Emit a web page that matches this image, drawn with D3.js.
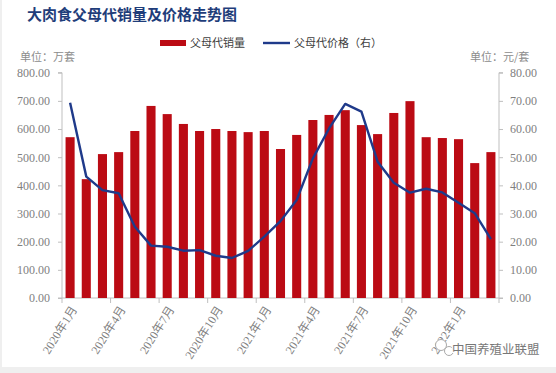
<!DOCTYPE html>
<html lang="zh">
  <head>
    <meta charset="UTF-8" />
    <title>大肉食父母代销量及价格走势图</title>
    <script src="https://d3js.org/d3.v7.min.js"></script>
    <style>
      body { margin: 0; background: #fff; }
      .tick text { font-family: "Liberation Serif", serif; fill: #7f7f7f; font-size: 12px; }
      .axis path, .axis line { stroke: #bfbfbf; }
      .cn { font-family: "Noto Sans CJK SC", sans-serif; }
    </style>
  </head>
  <body>
    <svg id="chart" width="556" height="373"></svg>
    <script>
      const months = [
        "2020年1月","2020年2月","2020年3月","2020年4月","2020年5月","2020年6月",
        "2020年7月","2020年8月","2020年9月","2020年10月","2020年11月","2020年12月",
        "2021年1月","2021年2月","2021年3月","2021年4月","2021年5月","2021年6月",
        "2021年7月","2021年8月","2021年9月","2021年10月","2021年11月","2021年12月",
        "2022年1月","2022年2月","2022年3月"
      ];
      const sales = [571, 422, 511, 518, 593, 682, 653, 618, 593, 600, 593, 589, 593, 529,
        579, 632, 650, 667, 614, 582, 657, 699, 571, 568, 564, 479, 518];
      const price = [69.3, 43.1, 38.3, 37.2, 25.3, 18.6, 18.2, 16.8, 17.0, 15.0, 14.2, 16.7,
        21.8, 27.3, 34.8, 49.6, 60.2, 68.9, 66.2, 48.4, 40.9, 37.4, 38.8, 37.5, 33.8, 30.1, 20.9];
      const leftTicks = [0, 100, 200, 300, 400, 500, 600, 700, 800];
      const rightTicks = [0, 10, 20, 30, 40, 50, 60, 70, 80];
      const labelMonths = months.filter((d, i) => i % 3 === 0);

      const svg = d3.select("#chart");
      const x0 = 62, x1 = 499, yBottom = 298, yTop = 72.7;

      // grey strip at the bottom
      svg.append("rect").attr("x", 0).attr("y", 367).attr("width", 556).attr("height", 6).attr("fill", "#efefef");
      svg.append("rect").attr("x", 0).attr("y", 0).attr("width", 2).attr("height", 373).attr("fill", "#efefef");

      const x = d3.scaleBand().domain(months).range([x0, x1]).paddingInner(0.44).paddingOuter(0.22);
      const yL = d3.scaleLinear().domain([0, 800]).range([yBottom, yTop]);
      const yR = d3.scaleLinear().domain([0, 80]).range([yBottom, yTop]);
      const step = (x1 - x0) / months.length;

      svg.append("text")
        .attr("class", "cn")
        .attr("x", 27).attr("y", 20)
        .attr("fill", "#1f3d7a")
        .style("font-size", "15px").style("font-weight", "bold")
        .text("大肉食父母代销量及价格走势图");

      // left axis
      svg.append("g").attr("class", "axis")
        .attr("transform", `translate(${x0},0)`)
        .call(d3.axisLeft(yL).tickValues(leftTicks).tickSize(4).tickPadding(8).tickFormat(d3.format(".2f")))
        .call((g) => g.select(".domain").attr("d", `M-4,${yTop}H0V${yBottom}H-4`));

      // right axis
      svg.append("g").attr("class", "axis")
        .attr("transform", `translate(${x1},0)`)
        .call(d3.axisRight(yR).tickValues(rightTicks).tickSize(4).tickPadding(7).tickFormat(d3.format(".2f")))
        .call((g) => g.select(".domain").attr("d", `M4,${yTop}H0V${yBottom}H4`));

      // bottom axis
      const xb = svg.append("g").attr("class", "axis").attr("transform", `translate(0,${yBottom})`);
      xb.append("line").attr("x1", x0).attr("x2", x1).attr("stroke", "#bfbfbf");
      d3.range(0, months.length + 1, 3).forEach((i) => {
        xb.append("line").attr("x1", x0 + i * step).attr("x2", x0 + i * step)
          .attr("y1", 0).attr("y2", 5).attr("stroke", "#bfbfbf");
      });
      xb.selectAll("text.xl").data(labelMonths).enter().append("text")
        .attr("class", "xl")
        .attr("transform", (d) => `translate(${x(d) + x.bandwidth() / 2 + 4},9) rotate(-58)`)
        .attr("text-anchor", "end")
        .attr("dy", "0.35em")
        .attr("fill", "#7f7f7f")
        .style("font-family", "'Liberation Serif', 'Noto Sans CJK SC', serif")
        .style("font-size", "12px")
        .text((d) => d);

      // bars
      svg.append("g").selectAll("rect").data(sales).enter().append("rect")
        .attr("x", (d, i) => x(months[i]))
        .attr("y", (d) => yL(d))
        .attr("width", x.bandwidth())
        .attr("height", (d) => yBottom - yL(d))
        .attr("fill", "#bb0b14");

      // line
      const line = d3.line()
        .x((d, i) => x(months[i]) + x.bandwidth() / 2)
        .y((d) => yR(d));
      svg.append("path").datum(price)
        .attr("d", line).attr("fill", "none")
        .attr("stroke", "#1f3a8a").attr("stroke-width", 2.4)
        .attr("stroke-linejoin", "round");

      // units
      svg.append("text").attr("class", "cn").attr("x", 20).attr("y", 61)
        .attr("fill", "#8c8c8c").style("font-size", "11px").text("单位：万套");
      svg.append("text").attr("class", "cn").attr("x", 470).attr("y", 61)
        .attr("fill", "#8c8c8c").style("font-size", "11px").text("单位：元/套");

      // legend
      const legend = svg.append("g").attr("class", "cn");
      legend.append("rect").attr("x", 160).attr("y", 40).attr("width", 26).attr("height", 6).attr("fill", "#bb0b14");
      legend.append("text").attr("x", 190).attr("y", 47).attr("fill", "#404040").style("font-size", "11px").text("父母代销量");
      legend.append("line").attr("x1", 263).attr("x2", 290).attr("y1", 43).attr("y2", 43)
        .attr("stroke", "#1f3a8a").attr("stroke-width", 2.4);
      legend.append("text").attr("x", 294).attr("y", 47).attr("fill", "#404040").style("font-size", "11px").text("父母代价格（右）");

      // watermark
      const wm = svg.append("g");
      wm.append("circle").attr("cx", 441).attr("cy", 345).attr("r", 5.5).attr("fill", "#fff").attr("stroke", "#aaa");
      wm.append("circle").attr("cx", 449).attr("cy", 351).attr("r", 4.5).attr("fill", "#fff").attr("stroke", "#aaa");
      wm.append("text").attr("class", "cn").attr("x", 452).attr("y", 354)
        .attr("fill", "#777").attr("stroke", "#fff").attr("stroke-width", 2.5).attr("paint-order", "stroke")
        .style("font-size", "12.5px").text("中国养殖业联盟");
    </script>
  </body>
</html>
